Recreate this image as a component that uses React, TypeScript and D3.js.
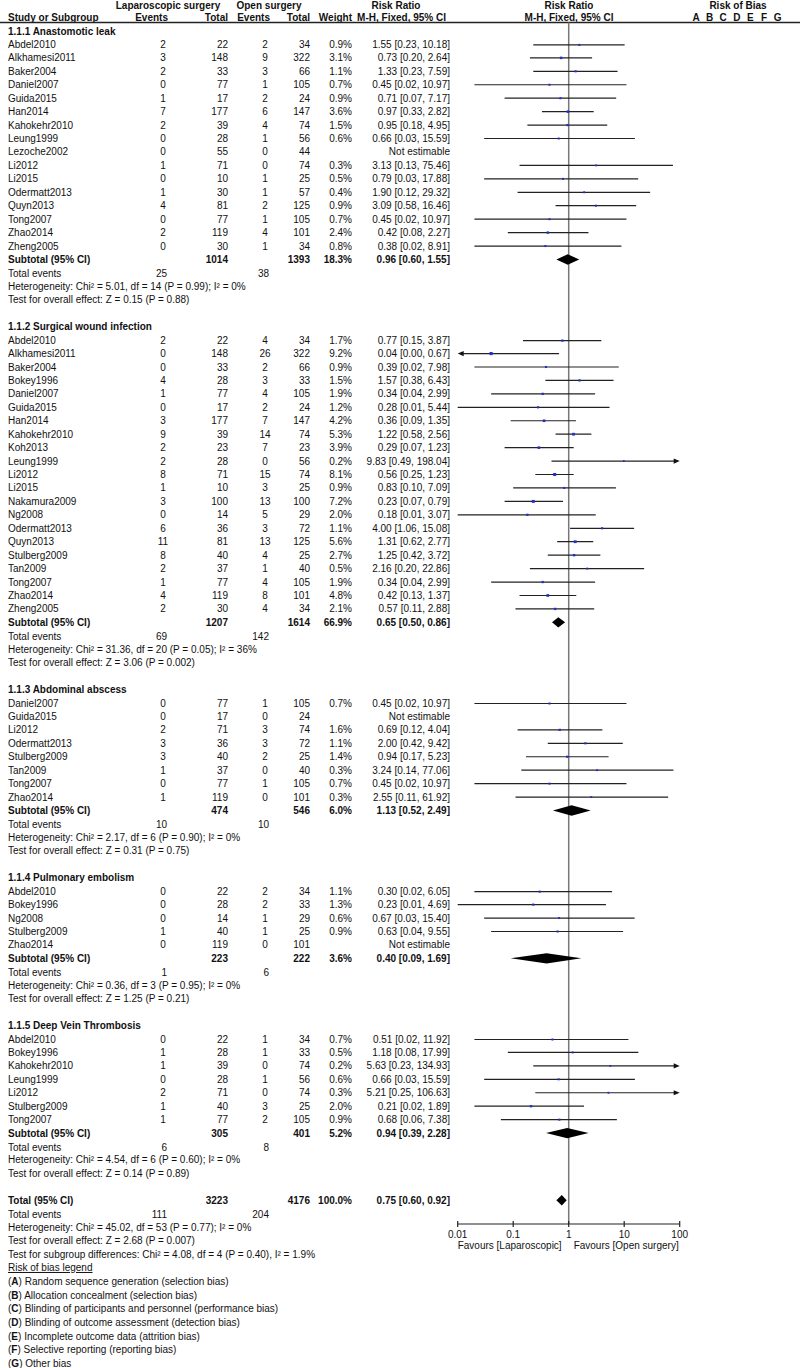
import React from "react";
import * as d3 from "d3";

type Study = [string, number, number, number, number, number | null, number | null, number | null, number | null];

const groupTitles = [
  "1.1.1 Anastomotic leak",
  "1.1.2 Surgical wound infection",
  "1.1.3 Abdominal abscess",
  "1.1.4 Pulmonary embolism",
  "1.1.5 Deep Vein Thrombosis",
];

// name, lapEvents, lapTotal, openEvents, openTotal, weight, rr, lo, hi
const anastomoticLeak: Study[] = [
  ["Abdel2010", 2, 22, 2, 34, 0.9, 1.55, 0.23, 10.18],
  ["Alkhamesi2011", 3, 148, 9, 322, 3.1, 0.73, 0.2, 2.64],
  ["Baker2004", 2, 33, 3, 66, 1.1, 1.33, 0.23, 7.59],
  ["Daniel2007", 0, 77, 1, 105, 0.7, 0.45, 0.02, 10.97],
  ["Guida2015", 1, 17, 2, 24, 0.9, 0.71, 0.07, 7.17],
  ["Han2014", 7, 177, 6, 147, 3.6, 0.97, 0.33, 2.82],
  ["Kahokehr2010", 2, 39, 4, 74, 1.5, 0.95, 0.18, 4.95],
  ["Leung1999", 0, 28, 1, 56, 0.6, 0.66, 0.03, 15.59],
  ["Lezoche2002", 0, 55, 0, 44, null, null, null, null],
  ["Li2012", 1, 71, 0, 74, 0.3, 3.13, 0.13, 75.46],
  ["Li2015", 0, 10, 1, 25, 0.5, 0.79, 0.03, 17.88],
  ["Odermatt2013", 1, 30, 1, 57, 0.4, 1.9, 0.12, 29.32],
  ["Quyn2013", 4, 81, 2, 125, 0.9, 3.09, 0.58, 16.46],
  ["Tong2007", 0, 77, 1, 105, 0.7, 0.45, 0.02, 10.97],
  ["Zhao2014", 2, 119, 4, 101, 2.4, 0.42, 0.08, 2.27],
  ["Zheng2005", 0, 30, 1, 34, 0.8, 0.38, 0.02, 8.91],
];

const woundInfection: Study[] = [
  ["Abdel2010", 2, 22, 4, 34, 1.7, 0.77, 0.15, 3.87],
  ["Alkhamesi2011", 0, 148, 26, 322, 9.2, 0.04, 0.0, 0.67],
  ["Baker2004", 0, 33, 2, 66, 0.9, 0.39, 0.02, 7.98],
  ["Bokey1996", 4, 28, 3, 33, 1.5, 1.57, 0.38, 6.43],
  ["Daniel2007", 1, 77, 4, 105, 1.9, 0.34, 0.04, 2.99],
  ["Guida2015", 0, 17, 2, 24, 1.2, 0.28, 0.01, 5.44],
  ["Han2014", 3, 177, 7, 147, 4.2, 0.36, 0.09, 1.35],
  ["Kahokehr2010", 9, 39, 14, 74, 5.3, 1.22, 0.58, 2.56],
  ["Koh2013", 2, 23, 7, 23, 3.9, 0.29, 0.07, 1.23],
  ["Leung1999", 2, 28, 0, 56, 0.2, 9.83, 0.49, 198.04],
  ["Li2012", 8, 71, 15, 74, 8.1, 0.56, 0.25, 1.23],
  ["Li2015", 1, 10, 3, 25, 0.9, 0.83, 0.1, 7.09],
  ["Nakamura2009", 3, 100, 13, 100, 7.2, 0.23, 0.07, 0.79],
  ["Ng2008", 0, 14, 5, 29, 2.0, 0.18, 0.01, 3.07],
  ["Odermatt2013", 6, 36, 3, 72, 1.1, 4.0, 1.06, 15.08],
  ["Quyn2013", 11, 81, 13, 125, 5.6, 1.31, 0.62, 2.77],
  ["Stulberg2009", 8, 40, 4, 25, 2.7, 1.25, 0.42, 3.72],
  ["Tan2009", 2, 37, 1, 40, 0.5, 2.16, 0.2, 22.86],
  ["Tong2007", 1, 77, 4, 105, 1.9, 0.34, 0.04, 2.99],
  ["Zhao2014", 4, 119, 8, 101, 4.8, 0.42, 0.13, 1.37],
  ["Zheng2005", 2, 30, 4, 34, 2.1, 0.57, 0.11, 2.88],
];

const abdominalAbscess: Study[] = [
  ["Daniel2007", 0, 77, 1, 105, 0.7, 0.45, 0.02, 10.97],
  ["Guida2015", 0, 17, 0, 24, null, null, null, null],
  ["Li2012", 2, 71, 3, 74, 1.6, 0.69, 0.12, 4.04],
  ["Odermatt2013", 3, 36, 3, 72, 1.1, 2.0, 0.42, 9.42],
  ["Stulberg2009", 3, 40, 2, 25, 1.4, 0.94, 0.17, 5.23],
  ["Tan2009", 1, 37, 0, 40, 0.3, 3.24, 0.14, 77.06],
  ["Tong2007", 0, 77, 1, 105, 0.7, 0.45, 0.02, 10.97],
  ["Zhao2014", 1, 119, 0, 101, 0.3, 2.55, 0.11, 61.92],
];

const pulmonaryEmbolism: Study[] = [
  ["Abdel2010", 0, 22, 2, 34, 1.1, 0.3, 0.02, 6.05],
  ["Bokey1996", 0, 28, 2, 33, 1.3, 0.23, 0.01, 4.69],
  ["Ng2008", 0, 14, 1, 29, 0.6, 0.67, 0.03, 15.4],
  ["Stulberg2009", 1, 40, 1, 25, 0.9, 0.63, 0.04, 9.55],
  ["Zhao2014", 0, 119, 0, 101, null, null, null, null],
];

const deepVeinThrombosis: Study[] = [
  ["Abdel2010", 0, 22, 1, 34, 0.7, 0.51, 0.02, 11.92],
  ["Bokey1996", 1, 28, 1, 33, 0.5, 1.18, 0.08, 17.99],
  ["Kahokehr2010", 1, 39, 0, 74, 0.2, 5.63, 0.23, 134.93],
  ["Leung1999", 0, 28, 1, 56, 0.6, 0.66, 0.03, 15.59],
  ["Li2012", 2, 71, 0, 74, 0.3, 5.21, 0.25, 106.63],
  ["Stulberg2009", 1, 40, 3, 25, 2.0, 0.21, 0.02, 1.89],
  ["Tong2007", 1, 77, 2, 105, 0.9, 0.68, 0.06, 7.38],
];

const groupStudies = [anastomoticLeak, woundInfection, abdominalAbscess, pulmonaryEmbolism, deepVeinThrombosis];

// lapTotal, openTotal, weight, rr, lo, hi
const subtotals = [
  [1014, 1393, 18.3, 0.96, 0.6, 1.55],
  [1207, 1614, 66.9, 0.65, 0.5, 0.86],
  [474, 546, 6.0, 1.13, 0.52, 2.49],
  [223, 222, 3.6, 0.4, 0.09, 1.69],
  [305, 401, 5.2, 0.94, 0.39, 2.28],
];
const subtotalEvents = [[25, 38], [69, 142], [10, 10], [1, 6], [6, 8]];
const heterogeneity = [
  "Heterogeneity: Chi² = 5.01, df = 14 (P = 0.99); I² = 0%",
  "Heterogeneity: Chi² = 31.36, df = 20 (P = 0.05); I² = 36%",
  "Heterogeneity: Chi² = 2.17, df = 6 (P = 0.90); I² = 0%",
  "Heterogeneity: Chi² = 0.36, df = 3 (P = 0.95); I² = 0%",
  "Heterogeneity: Chi² = 4.54, df = 6 (P = 0.60); I² = 0%",
];
const overallEffect = [
  "Test for overall effect: Z = 0.15 (P = 0.88)",
  "Test for overall effect: Z = 3.06 (P = 0.002)",
  "Test for overall effect: Z = 0.31 (P = 0.75)",
  "Test for overall effect: Z = 1.25 (P = 0.21)",
  "Test for overall effect: Z = 0.14 (P = 0.89)",
];

const overallTotal = [3223, 4176, 100.0, 0.75, 0.6, 0.92];
const overallEvents = [111, 204];
const overallNotes = [
  "Heterogeneity: Chi² = 45.02, df = 53 (P = 0.77); I² = 0%",
  "Test for overall effect: Z = 2.68 (P = 0.007)",
  "Test for subgroup differences: Chi² = 4.08, df = 4 (P = 0.40), I² = 1.9%",
];

const axisTicks = [0.01, 0.1, 1, 10, 100];
const axisTickLabels = ["0.01", "0.1", "1", "10", "100"];
const favoursLeft = "Favours [Laparoscopic]";
const favoursRight = "Favours [Open surgery]";

const biasLetters = ["A", "B", "C", "D", "E", "F", "G"];
const biasLegend = [
  "Random sequence generation (selection bias)",
  "Allocation concealment (selection bias)",
  "Blinding of participants and personnel (performance bias)",
  "Blinding of outcome assessment (detection bias)",
  "Incomplete outcome data (attrition bias)",
  "Selective reporting (reporting bias)",
  "Other bias",
];

const FONT = "'Liberation Sans', Arial, Helvetica, sans-serif";
const ROW0 = 31;
const ROWH = 13.44;
const C_NAME = 8;
const C_LAPEV = 167;
const C_LAPTOT = 228;
const C_OPEV = 269;
const C_OPTOT = 310;
const C_WT = 352;
const C_RR = 450;
const MARK = "#1f2fd0";
const INK = "#111";

const x = d3.scaleLog().domain([0.01, 100]).range([457.7, 679.7]);
const xMin = 0.01;
const xMax = 100;

const fmtRR = (rr: number, lo: number, hi: number) => `${rr.toFixed(2)} [${lo.toFixed(2)}, ${hi.toFixed(2)}]`;

function CI({ y, lo, hi, rr, w }: { y: number; lo: number; hi: number; rr: number; w: number }) {
  const leftArrow = lo < xMin;
  const rightArrow = hi > xMax;
  const x1 = leftArrow ? x(xMin) : x(lo);
  const x2 = rightArrow ? x(xMax) : x(hi);
  const s = 1.6 + Math.sqrt(w) * 0.5;
  return (
    <g>
      <line x1={leftArrow ? x1 + 4 : x1} x2={rightArrow ? x2 - 4 : x2} y1={y} y2={y} stroke="#222" strokeWidth={1.2} />
      {leftArrow && <polygon points={`${x1},${y} ${x1 + 6},${y - 2.6} ${x1 + 6},${y + 2.6}`} fill="#111" />}
      {rightArrow && <polygon points={`${x2},${y} ${x2 - 6},${y - 2.6} ${x2 - 6},${y + 2.6}`} fill="#111" />}
      <rect x={x(rr) - s / 2} y={y - s / 2} width={s} height={s} fill={MARK} />
    </g>
  );
}

function Diamond({ y, lo, hi, rr }: { y: number; lo: number; hi: number; rr: number }) {
  const h = 5.2;
  return <polygon points={`${x(lo)},${y} ${x(rr)},${y - h} ${x(hi)},${y} ${x(rr)},${y + h}`} fill="#000" />;
}

export default function App() {
  const els: React.ReactNode[] = [];
  let r = 0;
  const yOf = (i: number) => ROW0 + i * ROWH;
  const T = (key: string, xx: number, y: number, txt: string | number, anchor: string = "start", bold = false) => (
    <text key={key} x={xx} y={y} dy="0.35em" textAnchor={anchor as any} fontWeight={bold ? "bold" : "normal"}>
      {txt}
    </text>
  );

  groupStudies.forEach((studies, g) => {
    els.push(T(`h${g}`, C_NAME, yOf(r), groupTitles[g], "start", true));
    r++;
    studies.forEach((s, k) => {
      const y = yOf(r) + (k === 0 ? 0.5 : 0);
      const [name, le, lt, oe, ot, w, rr, lo, hi] = s;
      els.push(
        <g key={`s${g}-${k}`}>
          {T("n", C_NAME, y, name)}
          {T("le", C_LAPEV - 4, y, le, "middle")}
          {T("lt", C_LAPTOT, y, lt, "end")}
          {T("oe", C_OPEV - 4, y, oe, "middle")}
          {T("ot", C_OPTOT, y, ot, "end")}
          {w !== null && T("w", C_WT, y, `${w.toFixed(1)}%`, "end")}
          {T("rr", C_RR, y, rr !== null ? fmtRR(rr, lo as number, hi as number) : "Not estimable", "end")}
          {rr !== null && <CI y={y} lo={lo as number} hi={hi as number} rr={rr} w={w as number} />}
        </g>
      );
      r++;
    });
    const st = subtotals[g];
    const ys = yOf(r);
    els.push(
      <g key={`st${g}`}>
        {T("n", C_NAME, ys, "Subtotal (95% CI)", "start", true)}
        {T("lt", C_LAPTOT, ys, st[0], "end", true)}
        {T("ot", C_OPTOT, ys, st[1], "end", true)}
        {T("w", C_WT, ys, `${st[2].toFixed(1)}%`, "end", true)}
        {T("rr", C_RR, ys, fmtRR(st[3], st[4], st[5]), "end", true)}
        <Diamond y={ys} lo={st[4]} hi={st[5]} rr={st[3]} />
      </g>
    );
    r++;
    const ye = yOf(r) + 1;
    els.push(
      <g key={`te${g}`}>
        {T("n", C_NAME, ye, "Total events")}
        {T("le", C_LAPEV, ye, subtotalEvents[g][0], "end")}
        {T("oe", C_OPEV, ye, subtotalEvents[g][1], "end")}
      </g>
    );
    r++;
    els.push(T(`het${g}`, C_NAME, yOf(r), heterogeneity[g]));
    r++;
    els.push(T(`oe${g}`, C_NAME, yOf(r), overallEffect[g]));
    r++;
    r++;
  });

  const yt = yOf(r);
  els.push(
    <g key="total">
      {T("n", C_NAME, yt, "Total (95% CI)", "start", true)}
      {T("lt", C_LAPTOT, yt, overallTotal[0], "end", true)}
      {T("ot", C_OPTOT, yt, overallTotal[1], "end", true)}
      {T("w", C_WT, yt, `${overallTotal[2].toFixed(1)}%`, "end", true)}
      {T("rr", C_RR, yt, fmtRR(overallTotal[3], overallTotal[4], overallTotal[5]), "end", true)}
      <Diamond y={yt} lo={overallTotal[4]} hi={overallTotal[5]} rr={overallTotal[3]} />
    </g>
  );
  r++;
  const yte = yOf(r) + 1;
  els.push(
    <g key="tte">
      {T("n", C_NAME, yte, "Total events")}
      {T("le", C_LAPEV, yte, overallEvents[0], "end")}
      {T("oe", C_OPEV, yte, overallEvents[1], "end")}
    </g>
  );
  r++;
  overallNotes.forEach((n, k) => {
    els.push(T(`on${k}`, C_NAME, yOf(r), n));
    r++;
  });
  const yLeg = yOf(r);
  els.push(
    <text key="legt" x={C_NAME} y={yLeg} dy="0.35em" textDecoration="underline">
      {"Risk of bias legend "}
    </text>
  );
  biasLegend.forEach((b, k) => {
    const y = yLeg + 14 + k * 13.7;
    els.push(
      <text key={`leg${k}`} x={C_NAME} y={y} dy="0.35em">
        (<tspan fontWeight="bold">{biasLetters[k]}</tspan>) {b}
      </text>
    );
  });

  const axisY = 1224;
  const vTop = 22.5;

  return (
    <svg width={800} height={1368} style={{ position: "absolute", left: 0, top: 0, background: "#fff" }} fontFamily={FONT} fontSize={10} fill={INK}>
      <rect x={0} y={0} width={800} height={1368} fill="#fff" />
      {/* header */}
      <g fontWeight="bold">
        <text x={168} y={9} textAnchor="middle">Laparoscopic surgery</text>
        <text x={269} y={9} textAnchor="middle">Open surgery</text>
        <text x={396} y={9} textAnchor="middle">Risk Ratio</text>
        <text x={569} y={9} textAnchor="middle">Risk Ratio</text>
        <text x={738} y={9} textAnchor="middle">Risk of Bias</text>
        <text x={C_NAME} y={20.5}>Study or Subgroup</text>
        <text x={168} y={20.5} textAnchor="end">Events</text>
        <text x={C_LAPTOT} y={20.5} textAnchor="end">Total</text>
        <text x={270} y={20.5} textAnchor="end">Events</text>
        <text x={C_OPTOT} y={20.5} textAnchor="end">Total</text>
        <text x={C_WT} y={20.5} textAnchor="end">Weight</text>
        <text x={446} y={20.5} textAnchor="end">M-H, Fixed, 95% CI</text>
        <text x={569} y={20.5} textAnchor="middle">M-H, Fixed, 95% CI</text>
        {biasLetters.map((l, i) => (
          <text key={l} x={696 + i * 13.6} y={20.5} textAnchor="middle">{l}</text>
        ))}
      </g>
      <line x1={0} x2={800} y1={22.5} y2={22.5} stroke="#222" strokeWidth={1.4} />
      {/* null line */}
      <line x1={x(1)} x2={x(1)} y1={vTop} y2={axisY} stroke="#777" strokeWidth={1.5} />
      {els}
      {/* axis */}
      <g>
        <line x1={x(xMin)} x2={x(xMax)} y1={axisY} y2={axisY} stroke="#222" strokeWidth={1.2} />
        {axisTicks.map((t, i) => (
          <g key={t}>
            <line x1={x(t)} x2={x(t)} y1={axisY - 3} y2={axisY + 3} stroke="#222" strokeWidth={1.2} />
            <text x={x(t)} y={axisY + 10} dy="0.35em" textAnchor="middle">{axisTickLabels[i]}</text>
          </g>
        ))}
        <text x={x(xMin)} y={axisY + 21} dy="0.35em">{favoursLeft}</text>
        <text x={x(xMax) - 1} y={axisY + 21} dy="0.35em" textAnchor="end">{favoursRight}</text>
      </g>
    </svg>
  );
}
